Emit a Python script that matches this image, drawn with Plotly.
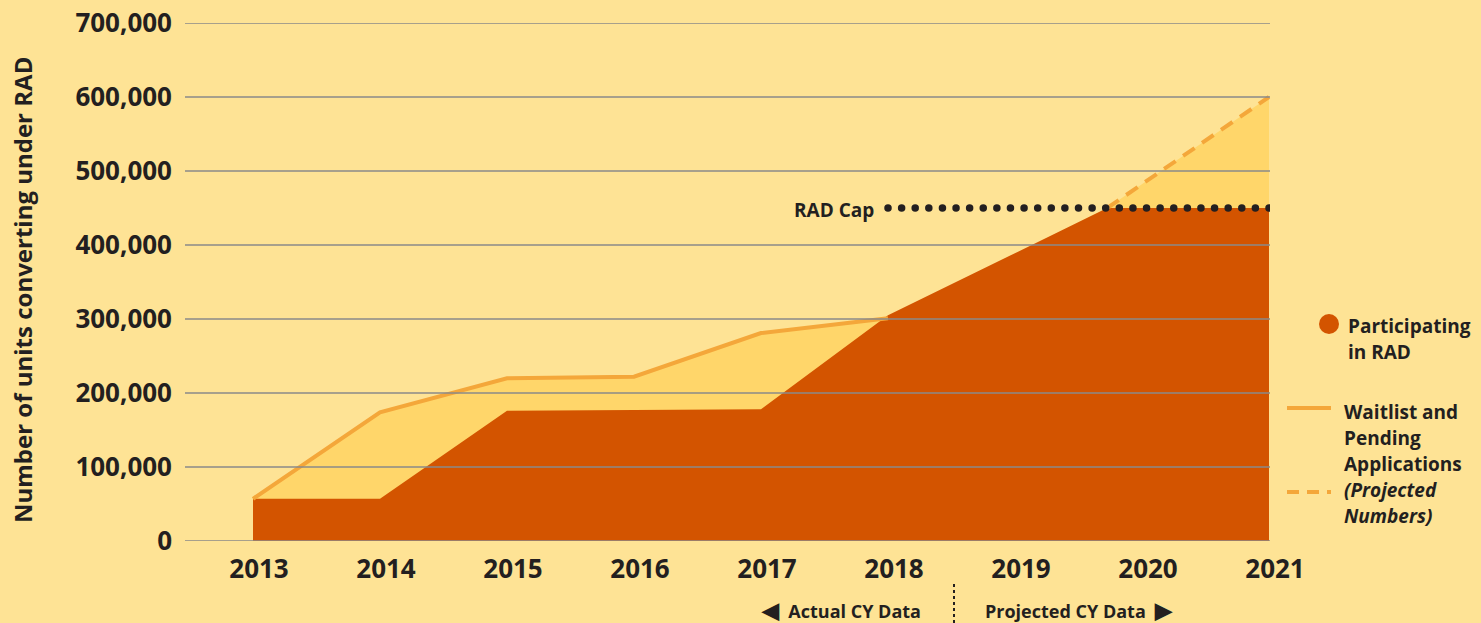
import numpy as np
import plotly.graph_objects as go

# ---------------- data ----------------
years = [2013, 2014, 2015, 2016, 2017, 2018, 2019, 2020, 2021]
actual_years = [2013, 2014, 2015, 2016, 2017, 2018]
participating = [57000, 57000, 176000, 177000, 178000, 305000, 389000]   # 2013-2019
waitlist_actual = [57000, 174000, 220000, 222000, 281000, 301000]        # 2013-2018
waitlist_projected_2021 = 600000
rad_cap = 450000
y_ticks = [0, 100000, 200000, 300000, 400000, 500000, 600000, 700000]

# year in which the participating trend reaches the RAD cap (extrapolated from 2018-2019)
slope = participating[-1] - participating[-2]
cap_year = 2019 + (rad_cap - participating[-1]) / slope

# ---------------- styling ----------------
BG = "#FEE395"
LIGHT = "#FFD66A"
DARK = "#D35400"
LINE = "#F4A73A"
TXT = "#231F20"
GRID = "#8A8A8A"
FONT = "Open Sans"

W, H = 1481, 623
L, R, T, B = 185, 1270, 23, 541


def px(xp):
    return (xp - L) / (R - L)


def py(yp):
    return (B - yp) / (B - T)


per_year = 127.0
x_lo = 2013 - (253 - L) / per_year
x_hi = 2021 + (R - 1269) / per_year

fig = go.Figure()

# light fill: waitlist envelope
fig.add_trace(go.Scatter(
    x=actual_years + [cap_year, 2021],
    y=waitlist_actual + [rad_cap, waitlist_projected_2021],
    mode="lines", line=dict(width=0, color=LIGHT),
    fill="tozeroy", fillcolor=LIGHT, hoverinfo="skip", showlegend=False))

# participating (dark)
fig.add_trace(go.Scatter(
    x=years[:7] + [cap_year, 2021],
    y=participating + [rad_cap, rad_cap],
    mode="lines", line=dict(width=0, color=DARK),
    fill="tozeroy", fillcolor=DARK, hoverinfo="skip", showlegend=False))

# waitlist actual line
fig.add_trace(go.Scatter(
    x=actual_years, y=waitlist_actual, mode="lines",
    line=dict(width=4, color=LINE), hoverinfo="skip", showlegend=False))

# waitlist projected dashed
fig.add_trace(go.Scatter(
    x=[cap_year, 2021], y=[rad_cap, waitlist_projected_2021], mode="lines",
    line=dict(width=4, color=LINE, dash="14px,9px"), hoverinfo="skip", showlegend=False))

shapes = []
# gridlines above the fills
for v in y_ticks:
    shapes.append(dict(type="line", xref="paper", yref="y", x0=0, x1=1, y0=v, y1=v,
                       line=dict(color=GRID, width=1.5), layer="above"))

# RAD cap dotted line
n_dots = 29
fig.add_trace(go.Scatter(
    x=np.linspace(2018, 2021, n_dots), y=[rad_cap] * n_dots, mode="markers",
    marker=dict(size=7.5, color=TXT), hoverinfo="skip", showlegend=False))

# legend marks
shapes.append(dict(type="circle", xref="paper", yref="paper",
                   x0=px(1319), x1=px(1339), y0=py(334), y1=py(314),
                   fillcolor=DARK, line=dict(width=0)))
shapes.append(dict(type="line", xref="paper", yref="paper",
                   x0=px(1287), x1=px(1331), y0=py(408), y1=py(408),
                   line=dict(color=LINE, width=4)))
shapes.append(dict(type="line", xref="paper", yref="paper",
                   x0=px(1287), x1=px(1331), y0=py(492), y1=py(492),
                   line=dict(color=LINE, width=4, dash="12px,8px")))
# divider between actual / projected
shapes.append(dict(type="line", xref="paper", yref="paper",
                   x0=px(954), x1=px(954), y0=py(584), y1=py(623),
                   line=dict(color=TXT, width=2, dash="dot")))

annotations = []


def txt(text, xpix, ypix, size=19, anchor="left", italic=False):
    annotations.append(dict(
        text=("<i>%s</i>" % text) if italic else text,
        xref="paper", yref="paper", x=px(xpix), y=py(ypix),
        xanchor=anchor, yanchor="middle", showarrow=False,
        font=dict(family=FONT, size=size, color=TXT, weight="bold")))


txt("Participating", 1346, 326)
txt("in RAD", 1346, 352)
txt("Waitlist and", 1342, 412)
txt("Pending", 1342, 438)
txt("Applications", 1342, 464)
txt("(Projected", 1342, 490, italic=True)
txt("Numbers)", 1342, 516, italic=True)
txt("RAD Cap", 876, 210, size=19, anchor="right")
txt("<span style='font-size:22px'>◀</span>  Actual CY Data", 923, 609, size=18, anchor="right")
txt("Projected CY Data  <span style='font-size:22px'>▶</span>", 983, 609, size=18, anchor="left")

annotations.append(dict(
    text="Number of units converting under RAD", textangle=-90,
    xref="paper", yref="paper", x=px(22), y=py(290),
    xanchor="center", yanchor="middle", showarrow=False,
    font=dict(family=FONT, size=24, color=TXT, weight="bold")))

fig.update_layout(
    width=W, height=H,
    margin=dict(l=L, r=W - R, t=T, b=H - B, autoexpand=False),
    paper_bgcolor=BG, plot_bgcolor=BG,
    showlegend=False,
    shapes=shapes, annotations=annotations,
    xaxis=dict(range=[x_lo, x_hi], tickvals=years, ticktext=[str(y) for y in years],
               showgrid=False, zeroline=False, showline=False, ticks="",
               automargin=False,
               ticklabelstandoff=10, ticklabelshift=6,
               tickfont=dict(family=FONT, size=26, color=TXT, weight="bold")),
    yaxis=dict(range=[0, 700000], tickvals=y_ticks, tickformat=",",
               showgrid=False, zeroline=False, showline=False, ticks="",
               automargin=False,
               ticklabelstandoff=12,
               tickfont=dict(family=FONT, size=26, color=TXT, weight="bold")),
)

fig.write_html("out.html", config={"displayModeBar": False},
               post_script="document.body.style.margin='0';document.body.style.background='%s';" % BG)
